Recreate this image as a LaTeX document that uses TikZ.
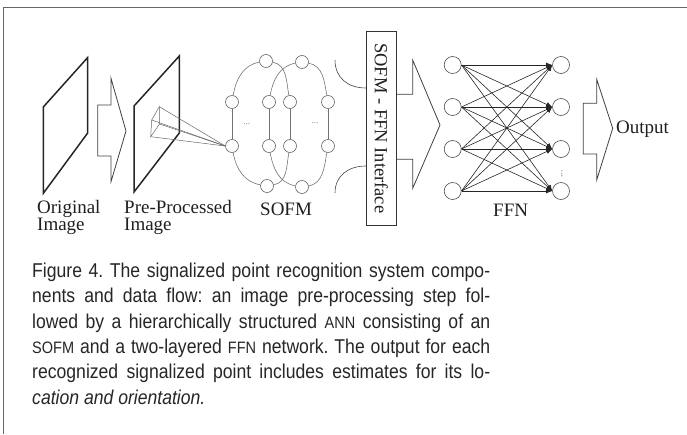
\documentclass[tikz,border=0pt]{standalone}
\usepackage{fontspec}
\setmainfont{Liberation Serif}
\newfontfamily\capfont[FakeStretch=0.88]{Liberation Sans}
\usetikzlibrary{arrows.meta}
\frenchspacing
\newcommand{\twolines}[2]{\vtop{\baselineskip=17pt\lineskiplimit=-10pt\hbox{#1}\hbox{#2}}}
\begin{document}
\begin{tikzpicture}[x=1pt,y=-1pt,
  lbl/.style={font=\fontsize{19}{19}\selectfont, inner sep=0, text=black!88},
  plane/.style={line width=1.5pt, black!85, line join=miter},
  barrow/.style={line width=0.8pt, black!75, line join=miter},
  snode/.style={circle, draw=black!60, fill=white, line width=0.6pt, minimum size=13pt, inner sep=0},
  fnode/.style={circle, draw=black!70, fill=white, line width=0.6pt, minimum size=17pt, inner sep=0},
  slink/.style={black!55, line width=0.6pt},
  flink/.style={black!85, line width=0.6pt, -{Latex[length=6pt,width=5pt]}},
  captxt/.style={font=\capfont\fontsize{20}{20}\selectfont, inner sep=0, text=black!85, anchor=base west}
]
\useasboundingbox (0,0) rectangle (687,434);
% frame
\draw[black!60, line width=1pt] (3,434) -- (3,7) -- (687,7);

% original image plane
\draw[plane] (43.3,107) -- (87.7,57.5) -- (87.7,133) -- (43.3,193.3) -- cycle;
% arrow 1
\draw[barrow] (97.7,105) -- (111,105) -- (111,78.3) -- (126,131) -- (111,181.7) -- (111,156) -- (97.7,156) -- cycle;
% pre-processed plane
\draw[plane] (134,106) -- (179.3,56) -- (179.3,133) -- (134,192) -- cycle;

% SOFM nodes
\node[snode] (t1) at (266,61) {};
\node[snode] (t2) at (302,62) {};
\node[snode] (l1) at (232,102) {};
\node[snode] (l2) at (232,146) {};
\node[snode] (il1) at (269,102) {};
\node[snode] (il2) at (269,146) {};
\node[snode] (ir1) at (290,102) {};
\node[snode] (ir2) at (290,146) {};
\node[snode] (r1) at (328,102) {};
\node[snode] (r2) at (328,146) {};
\node[snode] (b1) at (267,186) {};
\node[snode] (b2) at (302,187) {};
% ellipse 1
\draw[slink] (t1) to[out=190,in=80] (l1);
\draw[slink] (l1) -- (l2);
\draw[slink] (l2) to[out=-80,in=170] (b1);
\draw[slink] (b1) to[out=10,in=-100] (ir2);
\draw[slink] (ir2) -- (ir1);
\draw[slink] (ir1) to[out=100,in=-10] (t1);
% ellipse 2
\draw[slink] (t2) to[out=190,in=80] (il1);
\draw[slink] (il1) -- (il2);
\draw[slink] (il2) to[out=-80,in=170] (b2);
\draw[slink] (b2) to[out=10,in=-100] (r2);
\draw[slink] (r2) -- (r1);
\draw[slink] (r1) to[out=100,in=-10] (t2);
\node[font=\fontsize{9}{9}\selectfont, text=black!50, inner sep=0] (sd1) at (246.7,124) {...};
\node[font=\fontsize{9}{9}\selectfont, text=black!50, inner sep=0] (sd2) at (315,123) {...};

% receptive field frustum
\coordinate (fT) at (159.3,106.7);
\coordinate (fL) at (151.7,120);
\coordinate (fB) at (150.7,136.7);
\coordinate (fR) at (159.5,124);
\draw[black!60, line width=0.5pt] (fT) -- (fL) -- (fB) -- (fR) -- cycle;
\foreach \c in {fT,fL,fB,fR} \draw[black!60, line width=0.5pt] (\c) -- (l2.west);

% interface box
\node[draw=black!80, line width=0.7pt, rotate=-90, minimum width=193.3pt, minimum height=30.7pt,
      inner sep=0, font=\fontsize{18.5}{18.5}\selectfont, text=black!88] (iface) at (381.3,128.3) {SOFM - FFN Interface};
\coordinate (ua) at (335,60);
\coordinate (ue) at (366,88);
\coordinate (la) at (335,193);
\coordinate (le) at (366,166);
\draw[black!75, line width=0.6pt] (ua) .. controls (335,78) and (348,88) .. (ue);
\draw[black!75, line width=0.6pt] (le) .. controls (348,166) and (335,176) .. (la);
% arrow 2
\draw[barrow] (396.7,94.3) -- (412.7,94.3) -- (412.7,60) -- (440,125) -- (412.7,188.3) -- (412.7,159.3) -- (396.7,159.3);

% FFN
\foreach \i/\y in {1/65,2/107,3/149,4/191} {
  \node[fnode] (a\i) at (452.7,\y) {};
  \node[fnode] (o\i) at (561,\y) {};
}
\foreach \i in {1,...,4} \foreach \j in {1,...,4} \draw[flink] (a\i.east) -- (o\j.west);
\node[font=\fontsize{10}{10}\selectfont, text=black!60, rotate=90, inner sep=0] (fdots) at (562,174) {...};

% arrow 3
\draw[barrow] (583.3,103.3) -- (596.7,103.3) -- (596.7,79.3) -- (612.7,128.3) -- (596.7,180) -- (596.7,154) -- (583.3,154) -- cycle;

% labels
\node[lbl, anchor=base west] (lo) at (37,213.5) {\twolines{Original}{Image}};
\node[lbl, anchor=base west] (lp) at (124,213.5) {\twolines{Pre-Processed}{Image}};
\node[lbl, anchor=base west] (ls) at (260,215) {SOFM};
\node[lbl, anchor=base west] (lf) at (493,216.5) {FFN};
\node[lbl, anchor=base west] (lout) at (616,133.5) {Output};

% caption
\newcommand{\smc}[1]{{\fontsize{16.5}{16.5}\selectfont #1}}
\node[captxt] (c1) at (32,277.5) {\makebox[458pt][s]{Figure 4. The signalized point recognition system compo-}};
\node[captxt] (c2) at (32,302.8) {\makebox[458pt][s]{nents and data flow: an image pre-processing step fol-}};
\node[captxt] (c3) at (32,328) {\makebox[458pt][s]{lowed by a hierarchically structured \smc{ANN} consisting of an}};
\node[captxt] (c4) at (32,353.3) {\makebox[458pt][s]{\smc{SOFM} and a two-layered \smc{FFN} network. The output for each}};
\node[captxt] (c5) at (32,378.6) {\makebox[458pt][s]{recognized signalized point includes estimates for its lo-}};
\node[captxt] (c6) at (32,404) {\itshape cation and orientation.};
\end{tikzpicture}
\end{document}
